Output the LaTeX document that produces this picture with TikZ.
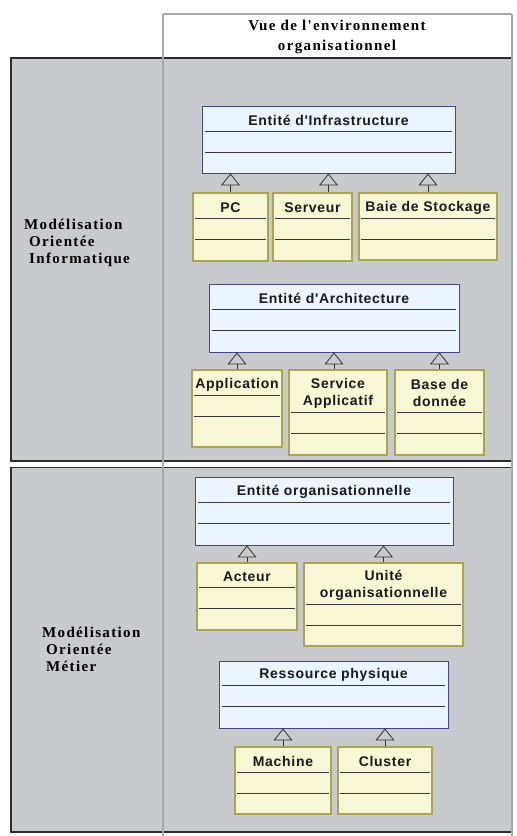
\documentclass[tikz,border=0pt]{standalone}
\usepackage{fontspec}
\setmainfont{Liberation Serif}
\newfontfamily\classfont[LetterSpace=5]{Liberation Sans}
\newfontfamily\viewfont[LetterSpace=9]{Liberation Serif}
\usepackage{tikz}
\usetikzlibrary{arrows.meta, positioning, fit}

\definecolor{bandgray}{RGB}{201,202,205}
\definecolor{bandline}{RGB}{45,45,45}
\definecolor{colline}{RGB}{168,168,170}
\definecolor{parentline}{RGB}{70,70,130}
\definecolor{parentfill}{RGB}{236,245,253}
\definecolor{childline}{RGB}{170,166,80}
\definecolor{childfill}{RGB}{249,248,214}
\definecolor{sepline}{RGB}{55,55,55}
\definecolor{genline}{RGB}{50,50,50}
\definecolor{titletext}{RGB}{25,25,25}

% one UML class: name, style, top left x/y, bottom right x/y, title height, title
\newcommand{\umlclass}[8]{%
  \node[#2, fit={(#3,#4) (#5,#6)}] (#1) {};
  \node[classtitle] (#1-title) at ({(#3+#5)/2},{#4+#7/2+1.5}) {#8};
  \draw[sep] ([xshift=3pt,yshift=-#7pt]#1.north west) -- ([xshift=-3pt,yshift=-#7pt]#1.north east);
  \draw[sep] ([xshift=3pt,yshift=-#7pt-21pt]#1.north west) -- ([xshift=-3pt,yshift=-#7pt-21pt]#1.north east);
}

\begin{document}
\begin{tikzpicture}[
  x=1pt, y=-1pt,
  band/.style={draw=bandline, line width=1.2pt},
  col/.style={draw=colline, line width=1.3pt},
  parent/.style={draw=parentline, fill=parentfill, line width=0.9pt, inner sep=0pt},
  child/.style={draw=childline, line width=1.1pt, inner sep=0pt,
                left color=childfill, middle color=white!70!childfill, right color=childfill},
  classtitle/.style={font=\classfont\bfseries\fontsize{14}{17}\selectfont, text=titletext,
                     align=center, inner sep=0pt},
  sep/.style={draw=sepline, line width=0.9pt},
  gen/.style={-{Triangle[open, length=12pt, width=19pt]}, draw=genline, line width=0.8pt},
  view/.style={font=\viewfont\bfseries\fontsize{15}{19.5}\selectfont, align=center, inner sep=0pt},
  lane/.style={font=\viewfont\bfseries\fontsize{15}{17}\selectfont, align=left, anchor=north west, inner sep=0pt},
]
\useasboundingbox (0,0) rectangle (517,836);

% bands and columns
\fill[bandgray] (11,58) rectangle (513,461);
\fill[bandgray] (11,467.5) rectangle (513,832);
\draw[band] (513,58) -- (11,58) -- (11,461) -- (513,461);
\draw[band] (513,467.5) -- (11,467.5) -- (11,832) -- (513,832);
\draw[col] (163,14) -- (512,14);
\draw[col] (163,14) -- (163,836);
\draw[col] (512,14) -- (512,836);

\node[view] (viewhead) at (337,37) {Vue de l'environnement\\organisationnel};
\node[lane] (laneinfo) at (24,219) {Modélisation\\\hspace*{5pt}Orientée\\\hspace*{5pt}Informatique};
\node[lane] (lanemetier) at (42,627) {Modélisation\\\hspace*{4pt}Orientée\\\hspace*{4pt}Métier};

% Modélisation Orientée Informatique
\umlclass{infra}{parent}{202}{106}{455}{173}{26}{Entité d'Infrastructure}
\umlclass{pc}{child}{193}{193}{268}{261}{26}{PC}
\umlclass{serveur}{child}{273}{193}{352}{261}{26}{Serveur}
\umlclass{baie}{child}{359}{193}{497}{260}{26}{Baie de Stockage}

\umlclass{archi}{parent}{209}{284}{459}{352}{26}{Entité d'Architecture}
\umlclass{appli}{child}{192}{370}{282}{447}{26}{Application}
\umlclass{service}{child}{289}{370}{387}{455}{43}{Service\\Applicatif}
\umlclass{base}{child}{395}{370}{484}{455}{43}{Base de\\donnée}

% Modélisation Orientée Métier
\umlclass{orga}{parent}{195}{477}{453}{545}{26}{Entité organisationnelle}
\umlclass{acteur}{child}{197}{563}{297}{630}{25}{Acteur}
\umlclass{unite}{child}{304}{563}{463}{646}{42}{Unité\\organisationnelle}

\umlclass{ressource}{parent}{219}{661}{448}{728}{25}{Ressource physique}
\umlclass{machine}{child}{235}{747}{331}{814}{26}{Machine}
\umlclass{cluster}{child}{338}{747}{432}{814}{26}{Cluster}

% generalisations
\draw[gen] (pc.north) -- (pc.north |- infra.south);
\draw[gen] ([xshift=16pt]serveur.north) -- ([xshift=16pt]serveur.north |- infra.south);
\draw[gen] (baie.north) -- (baie.north |- infra.south);
\draw[gen] (appli.north) -- (appli.north |- archi.south);
\draw[gen] ([xshift=-4pt]service.north) -- ([xshift=-4pt]service.north |- archi.south);
\draw[gen] (base.north) -- (base.north |- archi.south);
\draw[gen] (acteur.north) -- (acteur.north |- orga.south);
\draw[gen] (unite.north) -- (unite.north |- orga.south);
\draw[gen] (machine.north) -- (machine.north |- ressource.south);
\draw[gen] (cluster.north) -- (cluster.north |- ressource.south);
\end{tikzpicture}
\end{document}
